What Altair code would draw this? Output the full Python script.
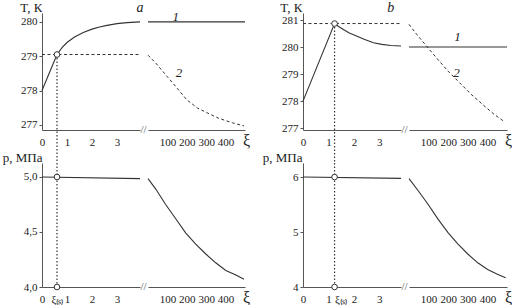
import altair as alt
import pandas as pd

FONT = "Liberation Serif"
INK = "#333333"
AXC = "#555555"
TXT = "#222222"

# ---------------- panel a ----------------
A_XS = 0.6
A_TS = 279.05
A_T1_L_XI = [0, 0.6, 0.8, 1.0, 1.3, 1.65, 2.0, 2.3, 2.6, 3.0, 3.4, 3.92]
A_T1_L_T = [278.0, 279.05, 279.25, 279.4, 279.56, 279.69, 279.79, 279.85, 279.9, 279.95, 279.98, 280.0]
A_T2_L_XI = [0, 3.92]
A_T2_L_T = [279.05, 279.05]
A_T1_R_XI = [0, 500]
A_T1_R_T = [280.0, 280.0]
A_T2_R_XI = [0, 40, 100, 150, 200, 255, 305, 365, 435, 495]
A_T2_R_T = [279.03, 278.8, 278.4, 278.07, 277.73, 277.49, 277.35, 277.19, 277.06, 276.97]
A_P_L_XI = [0, 3.92]
A_P_L = [5.0, 4.985]
A_P_R_XI = [0, 40, 91, 143, 195, 246, 298, 349, 401, 453, 495]
A_P_R = [4.985, 4.89, 4.75, 4.62, 4.49, 4.39, 4.30, 4.22, 4.15, 4.11, 4.07]
A_CIRC_P = [5.0, 4.0]

# ---------------- panel b ----------------
B_XS = 1.24
B_TS = 280.87
B_T1_L_XI = [0, 1.24, 1.4, 1.57, 1.8, 2.1, 2.4, 2.77, 3.1, 3.45, 3.85]
B_T1_L_T = [278.0, 280.87, 280.76, 280.66, 280.53, 280.41, 280.29, 280.16, 280.1, 280.06, 280.04]
B_T2_L_XI = [0, 3.85]
B_T2_L_T = [280.87, 280.87]
B_T1_R_XI = [0, 500]
B_T1_R_T = [280.0, 280.0]
B_T2_R_XI = [0, 39, 89, 140, 199, 258, 317, 375, 434, 490]
B_T2_R_T = [280.84, 280.47, 280.04, 279.6, 279.11, 278.68, 278.25, 277.88, 277.51, 277.22]
B_P_L_XI = [0, 3.85]
B_P_L = [6.0, 5.975]
B_P_R_XI = [0, 47, 98, 149, 199, 250, 300, 351, 401, 451, 493]
B_P_R = [5.97, 5.75, 5.5, 5.23, 4.99, 4.78, 4.6, 4.44, 4.32, 4.23, 4.17]
B_CIRC_P = [6.0, 4.0]

# axis domains / ticks
A_XL = [0, 3.92]
B_XL = [0, 3.85]
XR = [0, 500]
A_TD = [276.85, 280.26]
B_TD = [276.93, 281.26]
A_PD = [4.0, 5.127]
B_PD = [4.0, 6.255]
A_T_TICKS = [277, 278, 279, 280]
B_T_TICKS = [277, 278, 279, 280, 281]
A_P_TICKS = [4.0, 4.5, 5.0]
B_P_TICKS = [4, 5, 6]
XL_TICKS = [0, 1, 2, 3]
XR_TICKS = [100, 200, 300, 400]

# curve labels
A_LAB_XI = [143, 160]
A_LAB_T = [280.15, 278.5]
B_LAB_XI = [248, 242]
B_LAB_T = [280.37, 279.05]
LAB_TXT = ["1", "2"]

W_L, W_RA, W_RB, W_GAP = 98, 97, 98, 42
H_TOP, H_BOT, ROW_GAP = 117, 124, 33

AX_COMMON = dict(labelFont=FONT, labelFontSize=11, labelColor=TXT, domainColor=AXC,
                 tickColor=AXC, domainWidth=1, grid=False, titleFont=FONT,
                 titleFontSize=13, titleFontWeight="normal", titleColor=TXT)


def df(x, y, **kw):
    d = pd.DataFrame({"xi": x, "v": y})
    for k, val in kw.items():
        d[k] = val
    return d


def enc(xdom, ydom, xaxis, yaxis):
    X = alt.X("xi:Q", scale=alt.Scale(domain=xdom, nice=False, zero=False), axis=xaxis)
    Y = alt.Y("v:Q", scale=alt.Scale(domain=ydom, nice=False, zero=False), axis=yaxis)
    return X, Y


def yax(values, title, expr, tx=0):
    return alt.Axis(values=values, title=title, titleAngle=0, titleAlign="right",
                    titleBaseline="alphabetic", titleX=tx, titleY=-2, tickSize=3,
                    labelPadding=2, labelExpr=expr, **AX_COMMON)


def xax_left(values, expr, xs=None, left_sub=False):
    kw = {}
    if xs is not None and left_sub:
        kw["labelAlign"] = {"condition": {"test": "abs(datum.value - %s) < 0.001" % xs, "value": "left"},
                            "value": "center"}
    return alt.Axis(values=values, title=None, ticks=False, labelPadding=6,
                    labelFlush=False, labelOverlap=False, labelExpr=expr, **kw, **AX_COMMON)


def xax_right(w):
    ax = dict(AX_COMMON)
    ax["titleFontSize"] = 16
    return alt.Axis(values=XR_TICKS, format="d", ticks=False, labelPadding=6,
                    labelFlush=False, labelOverlap=False, title="ξ",
                    titleX=w + 1, titleY=15, titleAlign="center", titleBaseline="alphabetic", **ax)


def solid(d, X, Y):
    return alt.Chart(d).mark_line(color=INK, strokeWidth=1.1).encode(x=X, y=Y)


def dashed(d, X, Y):
    return alt.Chart(d).mark_line(color=INK, strokeWidth=1, strokeDash=[3, 2.5]).encode(x=X, y=Y)


def circles(d, X, Y):
    return alt.Chart(d).mark_point(shape="circle", filled=True, fill="white", stroke=INK,
                                   strokeWidth=1, size=32, opacity=1).encode(x=X, y=Y)


def slash(d, X, Y, dx):
    return alt.Chart(d).mark_text(text="/", font=FONT, fontSize=11, color=AXC, dx=dx,
                                  baseline="middle").encode(x=X, y=Y)


def labels(d, X, Y):
    return alt.Chart(d).mark_text(font=FONT, fontSize=13, fontStyle="italic", color=TXT,
                                  baseline="middle").encode(x=X, y=Y, text="t:N")


def top_left(xdom, tdom, tticks, t1x, t1y, t2x, t2y, xs, ts, letter, lx, ly, tx):
    X, Y = enc(xdom, tdom, xax_left(XL_TICKS, "format(datum.value, 'd')"),
               yax(tticks, "T, К", "format(datum.value, 'd')", tx))
    rule = alt.Chart(df([xs], [ts])).mark_rule(color=INK, strokeWidth=1.2, strokeDash=[1.5, 2]).encode(
        x=X, y=Y, y2=alt.value(H_TOP + ROW_GAP))
    let = alt.Chart(df([lx], [ly], t=letter)).mark_text(font=FONT, fontSize=14, fontStyle="italic",
                                                        color=TXT, baseline="middle").encode(x=X, y=Y, text="t:N")
    return alt.layer(
        dashed(df(t2x, t2y), X, Y), solid(df(t1x, t1y), X, Y), rule,
        circles(df([xs], [ts]), X, Y),
        slash(df([xdom[1]], [tdom[0]]), X, Y, 2), let,
    ).properties(width=W_L, height=H_TOP)


def top_right(w, tdom, t1x, t1y, t2x, t2y, labx, laby):
    X, Y = enc(XR, tdom, xax_right(w), None)
    return alt.layer(
        solid(df(t1x, t1y), X, Y), dashed(df(t2x, t2y), X, Y),
        labels(df(labx, laby, t=LAB_TXT), X, Y),
        slash(df([XR[0]], [tdom[0]]), X, Y, -3),
    ).properties(width=w, height=H_TOP)


def bot_left(xdom, pdom, pticks, pexpr, px, py, xs, cp, tx, left_sub):
    xexpr = "abs(datum.value - %s) < 0.001 ? 'ξ₍ₛ₎' : format(datum.value, 'd')" % xs
    X, Y = enc(xdom, pdom, xax_left([0, xs, 1, 2, 3], xexpr, xs, left_sub),
               yax(pticks, "p, МПа", pexpr, tx))
    rule = alt.Chart(df([xs], [pdom[0]])).mark_rule(color=INK, strokeWidth=1.2, strokeDash=[1.5, 2]).encode(
        x=X, y=Y, y2=alt.value(-2))
    return alt.layer(
        solid(df(px, py), X, Y), rule,
        circles(df([xs, xs], cp), X, Y),
        slash(df([xdom[1]], [pdom[0]]), X, Y, 2),
    ).properties(width=W_L, height=H_BOT)


def bot_right(w, pdom, px, py):
    X, Y = enc(XR, pdom, xax_right(w), None)
    return alt.layer(
        solid(df(px, py), X, Y),
        slash(df([XR[0]], [pdom[0]]), X, Y, -3),
    ).properties(width=w, height=H_BOT)


def spacer(h):
    return alt.Chart(df([0], [0])).mark_point(opacity=0).encode(
        x=alt.X("xi:Q", axis=None), y=alt.Y("v:Q", axis=None)).properties(width=W_GAP, height=h)


aTL = top_left(A_XL, A_TD, A_T_TICKS, A_T1_L_XI, A_T1_L_T, A_T2_L_XI, A_T2_L_T, A_XS, A_TS,
               "a", 3.92, 280.41, 0)
aTR = top_right(W_RA, A_TD, A_T1_R_XI, A_T1_R_T, A_T2_R_XI, A_T2_R_T, A_LAB_XI, A_LAB_T)
bTL = top_left(B_XL, B_TD, B_T_TICKS, B_T1_L_XI, B_T1_L_T, B_T2_L_XI, B_T2_L_T, B_XS, B_TS,
               "b", 3.45, 281.45, -1)
bTR = top_right(W_RB, B_TD, B_T1_R_XI, B_T1_R_T, B_T2_R_XI, B_T2_R_T, B_LAB_XI, B_LAB_T)

aBL = bot_left(A_XL, A_PD, A_P_TICKS, "replace(format(datum.value, '.1f'), '.', ',')",
               A_P_L_XI, A_P_L, A_XS, A_CIRC_P, 0, False)
aBR = bot_right(W_RA, A_PD, A_P_R_XI, A_P_R)
bBL = bot_left(B_XL, B_PD, B_P_TICKS, "format(datum.value, 'd')",
               B_P_L_XI, B_P_L, B_XS, B_CIRC_P, -1, True)
bBR = bot_right(W_RB, B_PD, B_P_R_XI, B_P_R)

chart = alt.concat(
    aTL, aTR, spacer(H_TOP), bTL, bTR,
    aBL, aBR, spacer(H_BOT), bBL, bBR,
    columns=5, spacing={"row": ROW_GAP, "column": 8}, bounds="flush", align="each",
).properties(
    padding={"left": 2, "top": 0, "right": 0, "bottom": 0}
).resolve_scale(x="independent", y="independent").configure_view(stroke=None).configure_axis(
    **AX_COMMON
).configure_text(font=FONT)

chart.save("out.html", embed_options={"renderer": "svg", "actions": False})
